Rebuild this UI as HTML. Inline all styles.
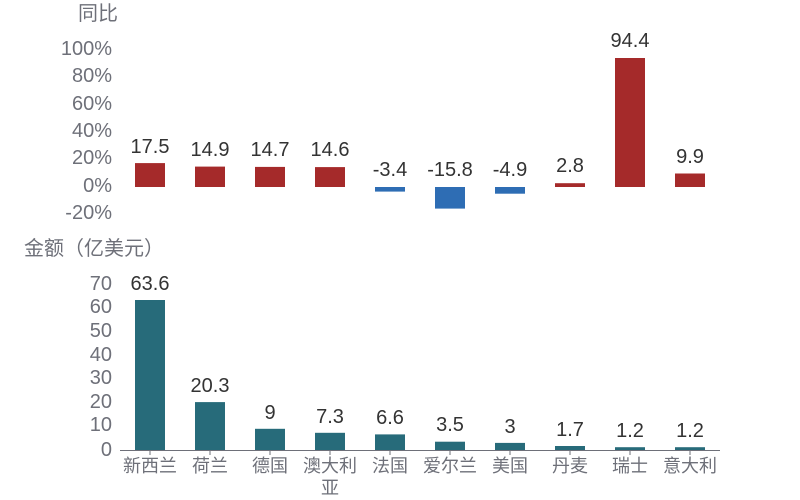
<!DOCTYPE html>
<html><head><meta charset="utf-8"><style>
html,body{margin:0;padding:0;background:#fff;}
svg{display:block;font-family:"Liberation Sans","Noto Sans CJK SC",sans-serif;}
.t{fill:#6e7079;font-size:20px;}
.v{fill:#333;font-size:20px;text-anchor:middle;}
.c{fill:#6e7079;font-size:18px;text-anchor:middle;}
</style></head><body>
<svg width="800" height="500" viewBox="0 0 800 500">
<text x="78" y="20" class="t">同比</text>
<g text-anchor="end" class="t">
<text x="112" y="55">100%</text>
<text x="112" y="82">80%</text>
<text x="112" y="110">60%</text>
<text x="112" y="137">40%</text>
<text x="112" y="164">20%</text>
<text x="112" y="192">0%</text>
<text x="112" y="219">-20%</text>
</g>
<g fill="#a52a2a">
<rect x="135" y="163.1" width="30" height="23.9"/>
<rect x="195" y="166.6" width="30" height="20.4"/>
<rect x="255" y="166.9" width="30" height="20.1"/>
<rect x="315" y="167.1" width="30" height="19.9"/>
<rect x="555" y="183.2" width="30" height="3.8"/>
<rect x="615" y="58" width="30" height="129"/>
<rect x="675" y="173.5" width="30" height="13.5"/>
</g>
<g fill="#2e6db4">
<rect x="375" y="187" width="30" height="4.6"/>
<rect x="435" y="187" width="30" height="21.6"/>
<rect x="495" y="187" width="30" height="6.7"/>
</g>
<text x="150" y="153" class="v">17.5</text>
<text x="210" y="156" class="v">14.9</text>
<text x="270" y="156" class="v">14.7</text>
<text x="330" y="156" class="v">14.6</text>
<text x="390" y="176" class="v">-3.4</text>
<text x="450" y="176" class="v">-15.8</text>
<text x="510" y="176" class="v">-4.9</text>
<text x="570" y="172" class="v">2.8</text>
<text x="630" y="47" class="v">94.4</text>
<text x="690" y="163" class="v">9.9</text>

<text x="24" y="255" class="t">金额（亿美元）</text>
<g text-anchor="end" class="t">
<text x="112" y="290">70</text>
<text x="112" y="313">60</text>
<text x="112" y="337">50</text>
<text x="112" y="361">40</text>
<text x="112" y="384">30</text>
<text x="112" y="408">20</text>
<text x="112" y="431">10</text>
<text x="112" y="456">0</text>
</g>
<g fill="#276b7a">
<rect x="135" y="300" width="30" height="150"/>
<rect x="195" y="402.1" width="30" height="47.9"/>
<rect x="255" y="428.8" width="30" height="21.2"/>
<rect x="315" y="432.8" width="30" height="17.2"/>
<rect x="375" y="434.4" width="30" height="15.6"/>
<rect x="435" y="441.7" width="30" height="8.3"/>
<rect x="495" y="442.9" width="30" height="7.1"/>
<rect x="555" y="446" width="30" height="4"/>
<rect x="615" y="447.2" width="30" height="2.8"/>
<rect x="675" y="447.2" width="30" height="2.8"/>
</g>
<line x1="120" y1="450.5" x2="720" y2="450.5" stroke="#6e7079" stroke-width="1"/>
<g stroke="#6e7079">
<line x1="150" y1="450" x2="150" y2="455"/><line x1="210" y1="450" x2="210" y2="455"/>
<line x1="270" y1="450" x2="270" y2="455"/><line x1="330" y1="450" x2="330" y2="455"/>
<line x1="390" y1="450" x2="390" y2="455"/><line x1="450" y1="450" x2="450" y2="455"/>
<line x1="510" y1="450" x2="510" y2="455"/><line x1="570" y1="450" x2="570" y2="455"/>
<line x1="630" y1="450" x2="630" y2="455"/><line x1="690" y1="450" x2="690" y2="455"/>
</g>
<text x="150" y="290" class="v">63.6</text>
<text x="210" y="392" class="v">20.3</text>
<text x="270" y="419" class="v">9</text>
<text x="330" y="423" class="v">7.3</text>
<text x="390" y="424" class="v">6.6</text>
<text x="450" y="431" class="v">3.5</text>
<text x="510" y="433" class="v">3</text>
<text x="570" y="436" class="v">1.7</text>
<text x="630" y="437" class="v">1.2</text>
<text x="690" y="437" class="v">1.2</text>
<text x="150" y="472" class="c">新西兰</text>
<text x="210" y="472" class="c">荷兰</text>
<text x="270" y="472" class="c">德国</text>
<text x="330" y="472" class="c">澳大利</text>
<text x="330" y="494" class="c">亚</text>
<text x="390" y="472" class="c">法国</text>
<text x="450" y="472" class="c">爱尔兰</text>
<text x="510" y="472" class="c">美国</text>
<text x="570" y="472" class="c">丹麦</text>
<text x="630" y="472" class="c">瑞士</text>
<text x="690" y="472" class="c">意大利</text>
</svg>
</body></html>
